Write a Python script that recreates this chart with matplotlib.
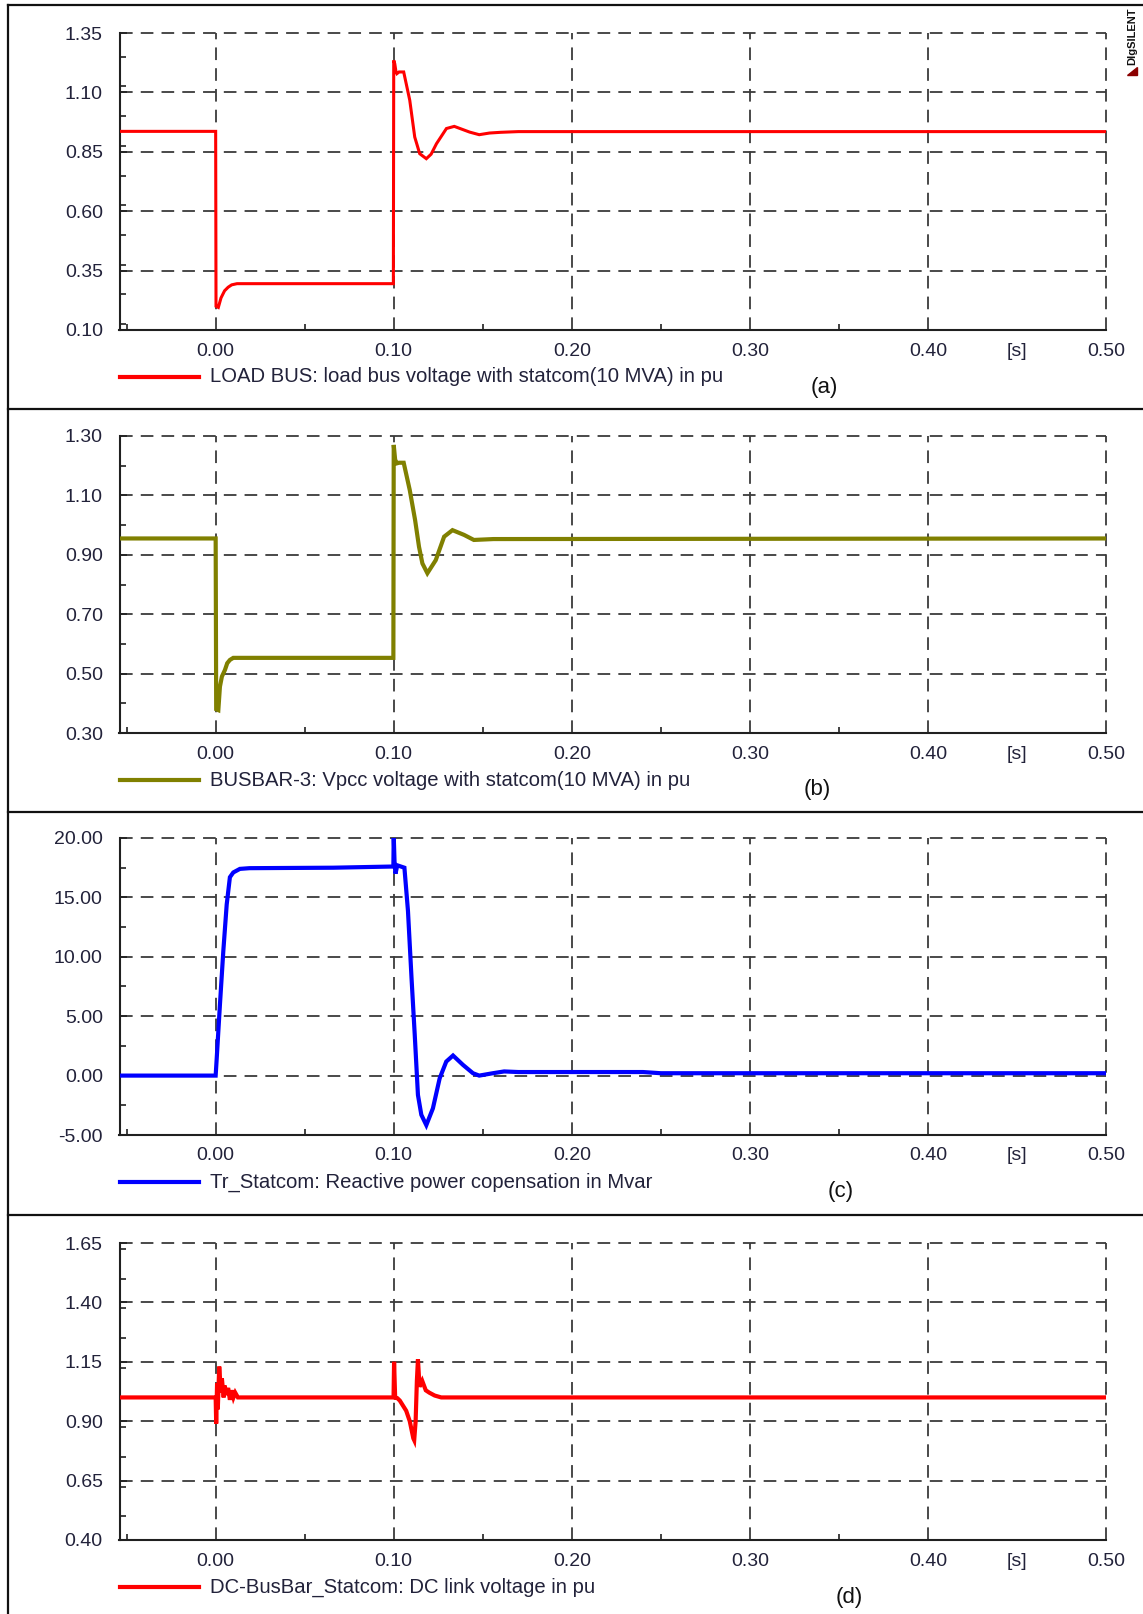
import numpy as np
from matplotlib import pyplot as plt
from matplotlib.lines import Line2D
from matplotlib.ticker import MultipleLocator

# Time series (time in s)
t_load = [-0.054, 0.0, 0.0002, 0.0015, 0.003, 0.005, 0.007, 0.009, 0.012, 0.0998, 0.1, 0.1006,
          0.1012, 0.1018, 0.103, 0.1056, 0.109, 0.1118, 0.1146, 0.1183, 0.121, 0.124, 0.1296,
          0.134, 0.1426, 0.148, 0.1538, 0.16, 0.17, 0.18, 0.5]
v_load = [0.936, 0.936, 0.20, 0.195, 0.235, 0.265, 0.28, 0.29, 0.295, 0.295, 1.235, 1.22,
          1.19, 1.179, 1.186, 1.186, 1.067, 0.912, 0.842, 0.821, 0.84, 0.884, 0.948,
          0.957, 0.933, 0.922, 0.929, 0.932, 0.935, 0.935, 0.935]

t_pcc = [-0.054, 0.0, 0.0003, 0.0015, 0.0024, 0.0035, 0.0052, 0.0065, 0.008, 0.0099, 0.0998,
         0.1, 0.1008, 0.1018, 0.103, 0.1056, 0.109, 0.112, 0.1142, 0.1161, 0.1189, 0.1236,
         0.1283, 0.133, 0.1395, 0.145, 0.156, 0.5]
v_pcc = [0.955, 0.955, 0.38, 0.377, 0.456, 0.49, 0.512, 0.535, 0.546, 0.553, 0.553,
         1.27, 1.22, 1.208, 1.21, 1.21, 1.118, 1.017, 0.927, 0.871, 0.838, 0.882,
         0.961, 0.983, 0.967, 0.95, 0.953, 0.955]

t_q = [-0.054, 0.0, 0.0006, 0.0024, 0.0043, 0.0062, 0.008, 0.0099, 0.0136, 0.019, 0.066, 0.0998,
       0.1, 0.1005, 0.101, 0.102, 0.106, 0.108, 0.110, 0.1118, 0.1136, 0.1155, 0.1183, 0.122,
       0.1258, 0.1295, 0.1333, 0.1389, 0.1445, 0.148, 0.1557, 0.162, 0.17, 0.24, 0.25, 0.5]
q_var = [0.0, 0.0, 1.46, 5.97, 10.48, 14.4, 16.7, 17.1, 17.4, 17.46, 17.5, 17.6,
         20.2, 17.8, 17.0, 17.7, 17.5, 13.86, 8.2, 3.44, -1.63, -3.3, -4.17, -2.76,
         -0.23, 1.18, 1.69, 0.9, 0.2, 0.0, 0.2, 0.35, 0.3, 0.3, 0.2, 0.2]

t_dc = [-0.054, 0.0, 0.0003, 0.0008, 0.0012, 0.002, 0.003, 0.0035, 0.0045, 0.005, 0.006, 0.007,
        0.008, 0.009, 0.010, 0.011, 0.0125, 0.0999, 0.1002, 0.1008, 0.102, 0.1034, 0.107, 0.109,
        0.111, 0.1115, 0.1123, 0.113, 0.1136, 0.1145, 0.116, 0.118, 0.12, 0.123, 0.1267, 0.5]
v_dc = [1.0, 1.0, 0.89, 1.06, 0.95, 1.13, 1.02, 1.08, 1.0, 1.05, 1.01, 1.04,
        0.99, 1.03, 1.0, 1.02, 1.0, 1.0, 1.15, 1.0, 0.997, 0.987, 0.944, 0.90,
        0.828, 0.82, 0.90, 1.07, 1.16, 1.045, 1.07, 1.03, 1.02, 1.008, 1.0, 1.0]

x_ticks = [0.0, 0.1, 0.2, 0.3, 0.4, 0.45, 0.5]
x_labels = ['0.00', '0.10', '0.20', '0.30', '0.40', '[s]', '0.50']

panels = [
    dict(t=t_load, y=v_load, color='#ff0000', lw=2.2, ylim=(0.10, 1.35), step=0.25, fmt='{:.2f}',
         label='LOAD BUS: load bus voltage with statcom(10 MVA) in pu', tag='(a)', tag_x=824),
    dict(t=t_pcc, y=v_pcc, color='#808000', lw=3.0, ylim=(0.30, 1.30), step=0.20, fmt='{:.2f}',
         label='BUSBAR-3: Vpcc voltage with statcom(10 MVA) in pu', tag='(b)', tag_x=817),
    dict(t=t_q, y=q_var, color='#0000ff', lw=3.0, ylim=(-5.0, 20.0), step=5.0, fmt='{:.2f}',
         label='Tr_Statcom: Reactive power copensation in Mvar', tag='(c)', tag_x=841),
    dict(t=t_dc, y=v_dc, color='#ff0000', lw=3.0, ylim=(0.40, 1.65), step=0.25, fmt='{:.2f}',
         label='DC-BusBar_Statcom: DC link voltage in pu', tag='(d)', tag_x=849),
]

W, H = 1143, 1614
fig = plt.figure(figsize=(W / 100, H / 100), dpi=100)
plt.rcParams['font.family'] = ['Liberation Sans', 'DejaVu Sans']


def fx(px):
    return px / W


def fy(py):
    return 1 - py / H


ax_left, ax_right = 119.5, 1106
ax_tops = [33, 436, 838, 1243]
ax_h = 297
tick_col = '#22223a'
grid_col = '#3a3a3a'

for p, top in zip(panels, ax_tops):
    ax = fig.add_axes([fx(ax_left), fy(top + ax_h), fx(ax_right - ax_left), ax_h / H])
    ax.plot(p['t'], p['y'], color=p['color'], lw=p['lw'], solid_joinstyle='miter', zorder=3)
    ax.set_xlim(-0.054, 0.5)
    ax.set_ylim(*p['ylim'])
    yt = np.arange(p['ylim'][0], p['ylim'][1] + p['step'] / 2, p['step'])
    ax.set_yticks(yt)
    ax.set_yticklabels([p['fmt'].format(v) for v in yt])
    ax.yaxis.set_minor_locator(MultipleLocator(p['step'] / 2))
    ax.set_xticks(x_ticks)
    ax.set_xticklabels(x_labels)
    ax.xaxis.set_minor_locator(MultipleLocator(0.05))
    for v in yt:
        ax.axhline(v, color=grid_col, lw=1.3, dashes=(7, 4.5), zorder=1, clip_on=False)
    for v in [0.0, 0.1, 0.2, 0.3, 0.4, 0.5]:
        ax.axvline(v, color=grid_col, lw=1.3, dashes=(7, 4.5), zorder=1, clip_on=False)
    ax.spines['top'].set_visible(False)
    ax.spines['right'].set_visible(False)
    ax.spines['left'].set_linewidth(1.5)
    ax.spines['bottom'].set_linewidth(1.5)
    ax.spines['left'].set_color('#202020')
    ax.spines['bottom'].set_color('#202020')
    ax.tick_params(axis='both', which='major', direction='in', length=5, width=1.2,
                   labelsize=14, colors='#202020', labelcolor=tick_col)
    ax.tick_params(axis='x', which='major', pad=9, length=0)
    ax.tick_params(axis='y', which='major', pad=12)
    ax.tick_params(axis='both', which='minor', direction='in', length=4, width=1.2, colors='#202020')
    ax.patch.set_alpha(0)

    # legend line and text below the axes
    ly = top + ax_h + 47
    fig.add_artist(Line2D([fx(119.5), fx(198.5)], [fy(ly), fy(ly)], color=p['color'], lw=3))
    fig.text(fx(210), fy(ly), p['label'], fontsize=14.6, color=tick_col, va='center', ha='left')
    fig.text(fx(p['tag_x']), fy(ly + 10), p['tag'], fontsize=16, color='#111111',
             va='center', ha='center')

# panel frames
for y in [5, 409, 811.5, 1215]:
    fig.add_artist(Line2D([fx(7.5), 1.0], [fy(y), fy(y)], color='#111111', lw=1.6))
fig.add_artist(Line2D([fx(7.5), fx(7.5)], [fy(5), 0.0], color='#111111', lw=1.6))

# DIgSILENT mark
fig.text(fx(1132), fy(36), 'DIgSILENT', rotation=90, fontsize=8, fontweight='bold',
         color='#111111', ha='center', va='center')
fig.add_artist(plt.Polygon([[fx(1127), fy(75)], [fx(1137), fy(75)], [fx(1137), fy(67)]],
                           closed=True, color='#8b0000'))

fig.savefig('out.png', dpi=100)
